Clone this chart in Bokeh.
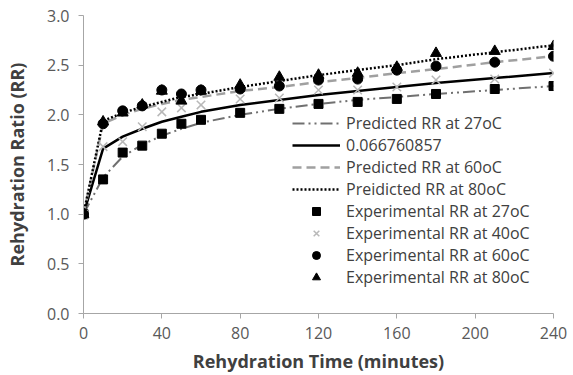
from bokeh.plotting import figure
from bokeh.models import Range1d, Legend, LegendItem, FixedTicker
from bokeh.embed import file_html
from bokeh.resources import INLINE

# Data
t = [0, 10, 20, 30, 40, 50, 60, 80, 100, 120, 140, 160, 180, 210, 240]

pred27 = [1.0, 1.37, 1.58, 1.70, 1.79, 1.86, 1.92, 2.00, 2.06, 2.11, 2.15, 2.18, 2.21, 2.25, 2.29]
pred40 = [1.0, 1.66, 1.78, 1.86, 1.93, 1.98, 2.03, 2.10, 2.15, 2.20, 2.24, 2.28, 2.32, 2.37, 2.42]
pred60 = [1.0, 1.91, 2.00, 2.06, 2.11, 2.15, 2.18, 2.24, 2.28, 2.33, 2.37, 2.42, 2.46, 2.53, 2.59]
pred80 = [1.0, 1.94, 2.02, 2.08, 2.13, 2.18, 2.21, 2.28, 2.34, 2.40, 2.45, 2.50, 2.56, 2.63, 2.70]

exp27 = [1.0, 1.35, 1.62, 1.69, 1.81, 1.91, 1.95, 2.02, 2.06, 2.11, 2.13, 2.16, 2.21, 2.26, 2.29]
exp40 = [1.0, 1.68, 1.73, 1.88, 2.03, 2.07, 2.10, 2.16, 2.17, 2.25, 2.25, 2.28, 2.35, 2.36, 2.42]
exp60 = [1.0, 1.91, 2.04, 2.09, 2.25, 2.21, 2.25, 2.26, 2.29, 2.35, 2.36, 2.45, 2.49, 2.53, 2.59]
exp80 = [1.0, 1.93, 2.02, 2.10, 2.24, 2.14, 2.24, 2.30, 2.38, 2.40, 2.42, 2.48, 2.62, 2.64, 2.69]

x_ticks = [0, 40, 80, 120, 160, 200, 240]
y_ticks = [0.0, 0.5, 1.0, 1.5, 2.0, 2.5, 3.0]

labels = ["Predicted RR at 27oC", "0.066760857", "Predicted RR at 60oC", "Preidicted RR at 80oC",
          "Experimental RR at 27oC", "Experimental RR at 40oC", "Experimental RR at 60oC",
          "Experimental RR at 80oC"]

FONT = "Open Sans"

p = figure(width=573, height=375, output_backend="svg", toolbar_location=None,
           x_range=Range1d(0, 240), y_range=Range1d(0, 3.0),
           min_border_left=83, min_border_right=20, min_border_top=15, min_border_bottom=60)
p.outline_line_color = None
p.xgrid.grid_line_color = None
p.ygrid.grid_line_color = None

r1 = p.line(t, pred27, line_color="#707070", line_width=2, line_dash="12 4 2 4 2 4")
r2 = p.line(t, pred40, line_color="black", line_width=2.5)
r3 = p.line(t, pred60, line_color="#a0a0a0", line_width=2.5, line_dash="9 5")
r4 = p.line(t, pred80, line_color="black", line_width=2.5, line_dash="2 2")

r5 = p.scatter(t, exp27, marker="square", size=9, fill_color="black", line_color="black")
r6 = p.scatter(t, exp40, marker="x", size=12, line_color="#b8b8b8", line_width=1.5)
r7 = p.scatter(t, exp60, marker="circle", size=10, fill_color="black", line_color="black")
r8 = p.scatter(t, exp80, marker="triangle", size=11, fill_color="black", line_color="black")

renderers = [r1, r2, r3, r4, r5, r6, r7, r8]
legend = Legend(items=[LegendItem(label=l, renderers=[r]) for l, r in zip(labels, renderers)],
                location=(209, 25), padding=0, margin=0, spacing=0,
                glyph_width=48, glyph_height=20, label_height=20, label_standoff=6,
                label_text_font=FONT, label_text_font_size="16px", label_text_color="#404040",
                background_fill_alpha=0, border_line_color=None)
p.add_layout(legend, "center")

for ax in (p.xaxis[0], p.yaxis[0]):
    ax.axis_line_color = "#a6a6a6"
    ax.major_tick_line_color = "#a6a6a6"
    ax.minor_tick_line_color = None
    ax.major_tick_in = 0
    ax.major_tick_out = 5
    ax.major_label_text_font = FONT
    ax.major_label_text_font_size = "16px"
    ax.major_label_text_color = "#595959"
    ax.axis_label_text_font = FONT
    ax.axis_label_text_font_size = "18px"
    ax.axis_label_text_font_style = "bold"
    ax.axis_label_text_color = "#404040"

p.xaxis.ticker = FixedTicker(ticks=x_ticks)
p.yaxis.ticker = FixedTicker(ticks=y_ticks)
p.yaxis.major_label_overrides = {v: f"{v:.1f}" for v in y_ticks}
p.xaxis.axis_label = "Rehydration Time (minutes)"
p.yaxis.axis_label = "Rehydration Ratio (RR)"
p.xaxis.major_label_standoff = 8
p.yaxis.major_label_standoff = 9
p.xaxis.axis_label_standoff = 7
p.yaxis.axis_label_standoff = 15

open("out.html", "w").write(file_html(p, INLINE))
